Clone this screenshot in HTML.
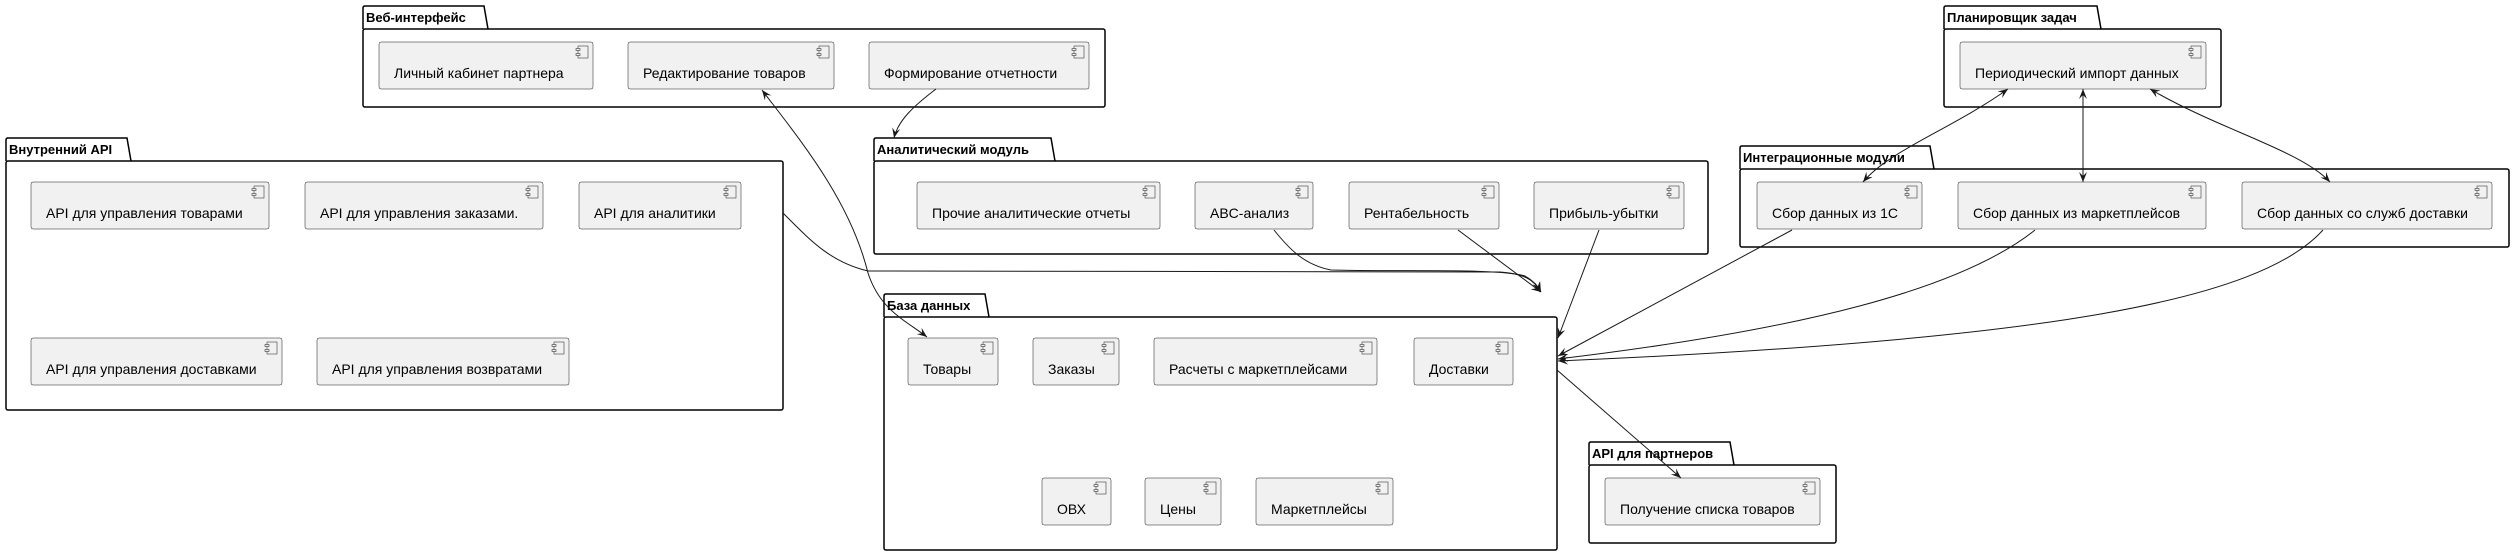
<!DOCTYPE html>
<html><head><meta charset="utf-8"><style>
html,body{margin:0;padding:0;background:#fff;}
svg{display:block;}
text{font-family:"Liberation Sans","DejaVu Sans",sans-serif;}
.c{fill:#F1F1F1;stroke:#181818;stroke-width:0.5;}
.ct{font-size:14px;fill:#000;}
.p{fill:none;stroke:#000;stroke-width:1.5;}
.pt{font-size:13px;font-weight:bold;fill:#000;}
.e{fill:none;stroke:#181818;stroke-width:1;}
.ic{fill:#F1F1F1;stroke:#181818;stroke-width:0.5;}
</style></head><body>
<svg width="2515" height="556" viewBox="0 0 2515 556" xmlns="http://www.w3.org/2000/svg">
<defs>
<marker id="a" viewBox="0 0 10 8" refX="10" refY="4" markerWidth="10" markerHeight="8" orient="auto-start-reverse" markerUnits="userSpaceOnUse">
<path d="M0,0 L10,4 L0,8 L4,4 z" fill="#181818"/>
</marker>
<g id="icon">
<rect class="ic" x="0" y="0" width="10" height="12"/>
<rect class="ic" x="-2" y="2.5" width="4" height="2"/>
<rect class="ic" x="-2" y="7.5" width="4" height="2"/>
</g>
</defs>

<!-- Packages -->
<g>
<path class="p" d="M363,29 L363,8 Q363,6 365,6 L484,6 L488,29"/>
<rect class="p" x="363" y="29" width="742" height="78" rx="2"/>
<text class="pt" x="366" y="22">Веб-интерфейс</text>

<path class="p" d="M6,161 L6,140 Q6,138 8,138 L127,138 L131,161"/>
<rect class="p" x="6" y="161" width="777" height="249" rx="2"/>
<text class="pt" x="9" y="154">Внутренний API</text>

<path class="p" d="M874,161 L874,140 Q874,138 876,138 L1051,138 L1055,161"/>
<rect class="p" x="874" y="161" width="834" height="93" rx="2"/>
<text class="pt" x="877" y="154">Аналитический модуль</text>

<path class="p" d="M1944,29 L1944,8 Q1944,6 1946,6 L2097,6 L2101,29"/>
<rect class="p" x="1944" y="29" width="277" height="78" rx="2"/>
<text class="pt" x="1947" y="22">Планировщик задач</text>

<path class="p" d="M1740,169 L1740,148 Q1740,146 1742,146 L1930,146 L1934,169"/>
<rect class="p" x="1740" y="169" width="769" height="78" rx="2"/>
<text class="pt" x="1743" y="162">Интеграционные модули</text>

<path class="p" d="M884,317 L884,296 Q884,294 886,294 L985,294 L989,317"/>
<rect class="p" x="884" y="317" width="673" height="233" rx="2"/>
<text class="pt" x="887" y="310">База данных</text>

<path class="p" d="M1589,465 L1589,444 Q1589,442 1591,442 L1730,442 L1734,465"/>
<rect class="p" x="1589" y="465" width="247" height="78" rx="2"/>
<text class="pt" x="1592" y="458">API для партнеров</text>
</g>

<!-- Components -->
<g>
<rect class="c" x="379" y="42" width="214" height="47" rx="2"/><use href="#icon" x="578" y="46"/><text class="ct" x="394" y="78">Личный кабинет партнера</text>
<rect class="c" x="628" y="42" width="206" height="47" rx="2"/><use href="#icon" x="819" y="46"/><text class="ct" x="643" y="78">Редактирование товаров</text>
<rect class="c" x="869" y="42" width="220" height="47" rx="2"/><use href="#icon" x="1074" y="46"/><text class="ct" x="884" y="78">Формирование отчетности</text>

<rect class="c" x="31" y="182" width="238" height="47" rx="2"/><use href="#icon" x="254" y="186"/><text class="ct" x="46" y="218">API для управления товарами</text>
<rect class="c" x="305" y="182" width="238" height="47" rx="2"/><use href="#icon" x="528" y="186"/><text class="ct" x="320" y="218">API для управления заказами.</text>
<rect class="c" x="579" y="182" width="162" height="47" rx="2"/><use href="#icon" x="726" y="186"/><text class="ct" x="594" y="218">API для аналитики</text>
<rect class="c" x="31" y="338" width="251" height="47" rx="2"/><use href="#icon" x="267" y="342"/><text class="ct" x="46" y="374">API для управления доставками</text>
<rect class="c" x="317" y="338" width="252" height="47" rx="2"/><use href="#icon" x="554" y="342"/><text class="ct" x="332" y="374">API для управления возвратами</text>

<rect class="c" x="917" y="182" width="243" height="47" rx="2"/><use href="#icon" x="1145" y="186"/><text class="ct" x="932" y="218">Прочие аналитические отчеты</text>
<rect class="c" x="1195" y="182" width="118" height="47" rx="2"/><use href="#icon" x="1298" y="186"/><text class="ct" x="1210" y="218">ABC-анализ</text>
<rect class="c" x="1349" y="182" width="150" height="47" rx="2"/><use href="#icon" x="1484" y="186"/><text class="ct" x="1364" y="218">Рентабельность</text>
<rect class="c" x="1534" y="182" width="150" height="47" rx="2"/><use href="#icon" x="1669" y="186"/><text class="ct" x="1549" y="218">Прибыль-убытки</text>

<rect class="c" x="1960" y="42" width="246" height="47" rx="2"/><use href="#icon" x="2191" y="46"/><text class="ct" x="1975" y="78">Периодический импорт данных</text>

<rect class="c" x="1757" y="182" width="165" height="47" rx="2"/><use href="#icon" x="1907" y="186"/><text class="ct" x="1772" y="218">Сбор данных из 1С</text>
<rect class="c" x="1958" y="182" width="248" height="47" rx="2"/><use href="#icon" x="2191" y="186"/><text class="ct" x="1973" y="218">Сбор данных из маркетплейсов</text>
<rect class="c" x="2242" y="182" width="250" height="47" rx="2"/><use href="#icon" x="2477" y="186"/><text class="ct" x="2257" y="218">Сбор данных со служб доставки</text>

<rect class="c" x="908" y="338" width="90" height="47" rx="2"/><use href="#icon" x="983" y="342"/><text class="ct" x="923" y="374">Товары</text>
<rect class="c" x="1033" y="338" width="86" height="47" rx="2"/><use href="#icon" x="1104" y="342"/><text class="ct" x="1048" y="374">Заказы</text>
<rect class="c" x="1154" y="338" width="223" height="47" rx="2"/><use href="#icon" x="1362" y="342"/><text class="ct" x="1169" y="374">Расчеты с маркетплейсами</text>
<rect class="c" x="1414" y="338" width="99" height="47" rx="2"/><use href="#icon" x="1498" y="342"/><text class="ct" x="1429" y="374">Доставки</text>
<rect class="c" x="1042" y="478" width="69" height="47" rx="2"/><use href="#icon" x="1096" y="482"/><text class="ct" x="1057" y="514">ОВХ</text>
<rect class="c" x="1145" y="478" width="76" height="47" rx="2"/><use href="#icon" x="1206" y="482"/><text class="ct" x="1160" y="514">Цены</text>
<rect class="c" x="1256" y="478" width="137" height="47" rx="2"/><use href="#icon" x="1378" y="482"/><text class="ct" x="1271" y="514">Маркетплейсы</text>

<rect class="c" x="1605" y="478" width="215" height="47" rx="2"/><use href="#icon" x="1805" y="482"/><text class="ct" x="1620" y="514">Получение списка товаров</text>
</g>

<!-- Edges -->
<g>
<path class="e" marker-start="url(#a)" marker-end="url(#a)" d="M762,90 C800,140 850,200 868,273 C880,310 905,320 927,337"/>
<path class="e" marker-end="url(#a)" d="M936,89 C915,105 898,120 894,138"/>
<path class="e" marker-end="url(#a)" d="M783,213 C810,240 830,262 868,271 C900,273 1200,272 1500,272 C1525,274 1535,280 1540,292"/>
<path class="e" marker-end="url(#a)" d="M1274,230 C1290,250 1305,265 1331,270 C1400,272 1500,268 1525,276 C1532,280 1538,286 1541,292"/>
<path class="e" marker-end="url(#a)" d="M1458,230 L1541,292"/>
<path class="e" marker-end="url(#a)" d="M1599,230 L1558,338"/>
<path class="e" marker-end="url(#a)" d="M1792,230 L1558,356"/>
<path class="e" marker-end="url(#a)" d="M2035,230 C1960,290 1800,330 1558,359"/>
<path class="e" marker-end="url(#a)" d="M2323,230 C2260,300 2050,340 1558,361"/>
<path class="e" marker-end="url(#a)" d="M1557,370 L1681,478"/>
<path class="e" marker-start="url(#a)" marker-end="url(#a)" d="M2008,89 C1950,130 1890,150 1863,182"/>
<path class="e" marker-start="url(#a)" marker-end="url(#a)" d="M2083,89 L2083,182"/>
<path class="e" marker-start="url(#a)" marker-end="url(#a)" d="M2150,89 C2220,130 2300,150 2330,182"/>
</g>
</svg>
</body></html>
